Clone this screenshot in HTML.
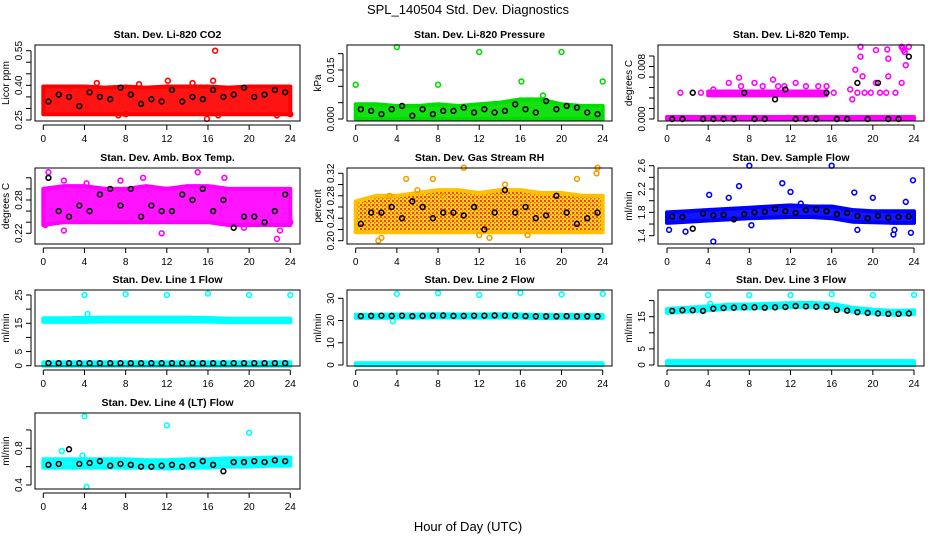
<!DOCTYPE html>
<html><head><meta charset="utf-8"><style>
body{margin:0;background:#fff;}
svg{display:block;font-family:"Liberation Sans",sans-serif;}
</style></head><body>
<svg id="chart" width="936" height="540" viewBox="0 0 936 540">
<defs>
<pattern id="rhPat" width="4" height="4" patternUnits="userSpaceOnUse">
<rect width="4" height="4" fill="#ffd200"/>
<rect x="0" y="0" width="2" height="2" fill="#f03000"/>
<rect x="2" y="2" width="1.5" height="1.5" fill="#f05000"/>
</pattern>
</defs>
<text x="468" y="14" font-size="13" text-anchor="middle">SPL_140504  Std. Dev. Diagnostics</text>
<text x="468" y="531" font-size="13" text-anchor="middle">Hour of Day (UTC)</text>
</svg>
<script>
const bandHours=[0,2,4,6,8,10,12,14,16,18,20,22,24];
const blackHours=[0.5,1.5,2.5,3.5,4.5,5.5,6.5,7.5,8.5,9.5,10.5,11.5,12.5,13.5,14.5,15.5,16.5,17.5,18.5,19.5,20.5,21.5,22.5,23.5];
const xTicks=[0,4,8,12,16,20,24];

const co2Lo=[0.275,0.275,0.275,0.275,0.275,0.275,0.275,0.275,0.275,0.275,0.275,0.275,0.275];
const co2Hi=[0.395,0.395,0.395,0.39,0.395,0.39,0.395,0.395,0.395,0.39,0.395,0.395,0.395];
const co2OutX=[7.3,8,16.5,16.7,15.9,17,22.7,24,12.1,14.5,5.2,9.3];
const co2OutY=[0.27,0.275,0.42,0.55,0.255,0.27,0.27,0.275,0.42,0.41,0.41,0.405];
const co2Black=[0.33,0.36,0.35,0.31,0.37,0.35,0.34,0.39,0.36,0.32,0.34,0.33,0.38,0.33,0.35,0.34,0.38,0.35,0.36,0.39,0.35,0.36,0.38,0.37];

const presLo=[0,0,0,0,0,0,0,0,0,0,0,0,0];
const presHi=[0.0045,0.0045,0.004,0.004,0.0045,0.004,0.0045,0.005,0.006,0.006,0.0045,0.004,0.004];
const presOutX=[0,4,8,12,16.1,20,24,18.2];
const presOutY=[0.0105,0.022,0.0105,0.0205,0.0115,0.0205,0.0115,0.0072];
const presBlack=[0.003,0.0025,0.0015,0.003,0.004,0.001,0.003,0.0015,0.0025,0.0025,0.0035,0.002,0.003,0.002,0.0025,0.0045,0.003,0.002,0.0055,0.003,0.004,0.0035,0.002,0.0015];

const tempLo=[0,0,0,0,0,0,0,0,0,0,0,0,0];
const tempHi=[0.0003,0.0003,0.0003,0.0003,0.0003,0.0003,0.0003,0.0003,0.0003,0.0003,0.0003,0.0003,0.0003];
const tempBand2X=[4,6,8,10,12,14,15.5];
const tempBand2Lo=[0.0036,0.0036,0.0036,0.0036,0.0036,0.0036,0.0036];
const tempBand2Hi=[0.0042,0.0042,0.0042,0.0042,0.0042,0.0042,0.0042];
const tempOutX=[1.3,3.3,7,7.2,10.3,10.8,11.4,13.5,14.7,15.5,18.3,18.8,18.8,19,20.3,21.4,21.5,22.8,23,23.2,18,20.3,21.5,22.8,18.5,19.8,20.7,22.2,16.2,4.5,6,8.5,9.3,12.5,17.8,19.2,21.3,23.5,22.9,23.1];
const tempOutY=[0.004,0.004,0.0063,0.005,0.006,0.005,0.005,0.005,0.005,0.005,0.0075,0.011,0.0095,0.0065,0.0105,0.0106,0.0092,0.011,0.0105,0.0082,0.003,0.0055,0.0065,0.0055,0.004,0.004,0.004,0.004,0.004,0.0045,0.0055,0.0055,0.005,0.0055,0.0045,0.004,0.004,0.011,0.0108,0.0102];
const tempBlack=[0,0,0.004,0,0,0,0,0.004,0,0,0.003,0.0045,0,0,0,0.004,0,0,0.0055,0,0.0055,0,0,0.0095];

const ambLo=[0.235,0.24,0.24,0.24,0.24,0.24,0.24,0.24,0.24,0.235,0.235,0.235,0.235];
const ambHi=[0.3,0.305,0.305,0.3,0.3,0.305,0.3,0.305,0.305,0.3,0.3,0.3,0.3];
const ambOutX=[0.5,2,4.2,9.7,15,17.6,22.7,23,0.2,2,19.5,24,7.5,11.5];
const ambOutY=[0.33,0.315,0.31,0.32,0.33,0.32,0.21,0.225,0.235,0.225,0.23,0.24,0.315,0.22];
const ambBlack=[0.32,0.26,0.25,0.27,0.26,0.29,0.3,0.27,0.3,0.25,0.27,0.26,0.26,0.29,0.28,0.3,0.26,0.28,0.23,0.25,0.25,0.24,0.26,0.29];

const rhLo=[0.215,0.215,0.215,0.215,0.215,0.215,0.215,0.215,0.215,0.215,0.215,0.215,0.215];
const rhHi=[0.27,0.28,0.28,0.285,0.29,0.29,0.285,0.29,0.29,0.285,0.285,0.28,0.28];
const rhOutX=[2.2,2.5,3.3,4.9,7.5,8.5,13,14.5,16.7,19.5,21.5,23.5,23.4,10.5,12,6];
const rhOutY=[0.2,0.205,0.28,0.31,0.31,0.28,0.205,0.3,0.21,0.28,0.31,0.33,0.32,0.33,0.21,0.29];
const rhBlack=[0.23,0.25,0.25,0.26,0.24,0.27,0.26,0.24,0.25,0.25,0.245,0.26,0.22,0.25,0.29,0.25,0.26,0.24,0.245,0.28,0.25,0.23,0.24,0.25];

const flowLo=[1.62,1.64,1.66,1.68,1.7,1.71,1.72,1.72,1.7,1.64,1.63,1.62,1.62];
const flowHi=[1.8,1.82,1.84,1.86,1.88,1.9,1.92,1.9,1.9,1.84,1.82,1.82,1.82];
const flowOutX=[0.2,1.8,4.5,4.1,6,7,8,8.2,11.2,12,16,18.2,18.5,20,22,22.1,23.2,23.7,23.9,13];
const flowOutY=[1.5,1.47,1.3,2.1,2.05,2.25,2.6,1.58,2.3,2.15,2.6,2.14,1.5,2.05,1.42,1.5,1.98,1.45,2.35,1.95];
const flowBlack=[1.73,1.72,1.52,1.78,1.75,1.76,1.68,1.77,1.8,1.81,1.86,1.82,1.79,1.84,1.85,1.82,1.77,1.79,1.74,1.7,1.74,1.71,1.72,1.73];

const l1Lo=[15.5,15.5,15.5,15.6,15.6,15.6,15.6,15.6,15.6,15.4,15.4,15.4,15.4];
const l1Hi=[16.8,16.8,16.9,17,17,17,17,17,16.9,16.6,16.6,16.6,16.6];
const l1BotLo=[0,0,0,0,0,0,0,0,0,0,0,0,0];
const l1BotHi=[1.2,1.2,1.2,1.2,1.2,1.2,1.2,1.2,1.2,1.2,1.2,1.2,1.2];
const l1OutX=[4,8,12,16,20,24,4.3];
const l1OutY=[25,25.3,25,25.5,25,25,18.3];
const l1Black=[0.9,0.9,0.9,0.9,0.9,0.9,0.9,0.9,0.9,0.9,0.9,0.9,0.9,0.9,0.9,0.9,0.9,0.9,0.9,0.9,0.9,0.9,0.9,0.9];

const l2Lo=[21.2,21.2,21.3,21.3,21.4,21.3,21.3,21.4,21.3,21.1,21.1,21.1,21.1];
const l2Hi=[22.6,22.6,22.7,22.7,22.8,22.7,22.7,22.8,22.7,22.5,22.5,22.5,22.5];
const l2BotLo=[0,0,0,0,0,0,0,0,0,0,0,0,0];
const l2BotHi=[0.8,0.8,0.8,0.8,0.8,0.8,0.8,0.8,0.8,0.8,0.8,0.8,0.8];
const l2OutX=[4,8,12,16,20,24,3.6];
const l2OutY=[32,32.3,31.5,32.5,31.8,32,19.7];
const l2Black=[22,22.1,22.2,22.1,22.2,22,22.1,22.2,22.3,22.1,22.1,22.2,22.2,22.3,22.2,22.2,22,21.9,21.9,21.9,22,21.9,21.9,21.9];

const l3Lo=[16.2,16.6,17,17.5,17.6,17.8,18,18.1,17.8,16.6,16,15.6,15.8];
const l3Hi=[17.4,17.8,18.2,18.7,18.8,19,19.2,19.3,19,17.8,17.2,16.8,17];
const l3BotLo=[0,0,0,0,0,0,0,0,0,0,0,0,0];
const l3BotHi=[1.2,1.2,1.2,1.2,1.2,1.2,1.2,1.2,1.2,1.2,1.2,1.2,1.2];
const l3OutX=[4,8,12,16,20,24,4.2];
const l3OutY=[21.7,21.7,21.7,22,21.7,21.8,19];
const l3Black=[16.8,17,17,16.8,17.5,17.7,17.8,17.9,17.9,17.8,17.9,18,18.3,18.2,18.1,18.1,17.1,16.9,16.4,16.2,16,15.9,15.9,16];

const l4Lo=[0.59,0.59,0.59,0.59,0.59,0.59,0.58,0.59,0.59,0.6,0.6,0.61,0.61];
const l4Hi=[0.68,0.68,0.68,0.68,0.68,0.67,0.67,0.68,0.68,0.69,0.69,0.7,0.7];
const l4OutX=[4,12,20,4.2,1.8,3.8];
const l4OutY=[1.15,1.05,0.97,0.38,0.77,0.72];
const l4Black=[0.62,0.63,0.79,0.63,0.64,0.66,0.61,0.63,0.62,0.6,0.6,0.61,0.62,0.6,0.62,0.66,0.62,0.55,0.65,0.65,0.66,0.65,0.67,0.66];

const svg=document.getElementById('chart');
const NS='http://www.w3.org/2000/svg';
function mk(tag,attrs,parent){const e=document.createElementNS(NS,tag);for(const k in attrs)e.setAttribute(k,attrs[k]);(parent||svg).appendChild(e);return e;}

const colLeft=[35,347,658],colRight=[300,612,924],colX0=[43.3,355.7,667],xSpan=247;
const rowTop=[45,168,290,413],boxH=76;

const panels=[
 {name:'co2',title:'Stan. Dev. Li-820 CO2',ylab:'Licor ppm',r:0,c:0,cal:[0.25,120,0.55,50.7],ticks:[0.25,0.3,0.35,0.4,0.45,0.5,0.55],labels:['0.25','','','0.40','','','0.55'],color:'#ff0000',bands:[[bandHours,co2Lo,co2Hi]],ox:co2OutX,oy:co2OutY,black:co2Black},
 {name:'pressure',title:'Stan. Dev. Li-820 Pressure',ylab:'kPa',r:0,c:1,cal:[0,119,0.015,70],ticks:[0,0.005,0.01,0.015,0.02],labels:['0.000','','','0.015',''],color:'#00dd00',bands:[[bandHours,presLo,presHi]],ox:presOutX,oy:presOutY,black:presBlack},
 {name:'temp',title:'Stan. Dev. Li-820 Temp.',ylab:'degrees C',r:0,c:2,cal:[0,119,0.008,66.5],ticks:[0,0.0016,0.0032,0.0048,0.0064,0.008,0.0096],labels:['0.000','','','','','0.008',''],color:'#ff00ff',bands:[[bandHours,tempLo,tempHi],[tempBand2X,tempBand2Lo,tempBand2Hi]],ox:tempOutX,oy:tempOutY,black:tempBlack},
 {name:'amb-box-temp',title:'Stan. Dev. Amb. Box Temp.',ylab:'degrees C',r:1,c:0,cal:[0.22,233.3,0.28,200],ticks:[0.22,0.24,0.26,0.28,0.3,0.32],labels:['0.22','','','0.28','',''],color:'#ff00ff',bands:[[bandHours,ambLo,ambHi]],ox:ambOutX,oy:ambOutY,black:ambBlack},
 {name:'gas-rh',title:'Stan. Dev. Gas Stream RH',ylab:'percent',r:1,c:1,cal:[0.2,240.7,0.32,173.3],ticks:[0.2,0.22,0.24,0.26,0.28,0.3,0.32],labels:['0.20','','0.24','','0.28','','0.32'],color:'#f2a000',fill:'url(#rhPat)',bands:[[bandHours,rhLo,rhHi]],ox:rhOutX,oy:rhOutY,black:rhBlack},
 {name:'sample-flow',title:'Stan. Dev. Sample Flow',ylab:'ml/min',r:1,c:2,cal:[1.4,235.7,2.6,165.7],ticks:[1.4,1.6,1.8,2,2.2,2.4,2.6],labels:['1.4','','1.8','','2.2','','2.6'],color:'#0000ff',bands:[[bandHours,flowLo,flowHi]],ox:flowOutX,oy:flowOutY,black:flowBlack},
 {name:'line1-flow',title:'Stan. Dev. Line 1 Flow',ylab:'ml/min',r:2,c:0,cal:[0,365.7,25,295],ticks:[0,5,10,15,20,25],labels:['0','5','','15','','25'],color:'#00ffff',bands:[[bandHours,l1Lo,l1Hi],[bandHours,l1BotLo,l1BotHi]],ox:l1OutX,oy:l1OutY,black:l1Black},
 {name:'line2-flow',title:'Stan. Dev. Line 2 Flow',ylab:'ml/min',r:2,c:1,cal:[0,365,30,298.3],ticks:[0,10,20,30],labels:['0','10','20','30'],color:'#00ffff',bands:[[bandHours,l2Lo,l2Hi],[bandHours,l2BotLo,l2BotHi]],ox:l2OutX,oy:l2OutY,black:l2Black},
 {name:'line3-flow',title:'Stan. Dev. Line 3 Flow',ylab:'ml/min',r:2,c:2,cal:[0,365,15,316.7],ticks:[0,5,10,15,20],labels:['0','5','','15',''],color:'#00ffff',bands:[[bandHours,l3Lo,l3Hi],[bandHours,l3BotLo,l3BotHi]],ox:l3OutX,oy:l3OutY,black:l3Black},
 {name:'line4-flow',title:'Stan. Dev. Line 4 (LT) Flow',ylab:'ml/min',r:3,c:0,cal:[0.4,485,0.8,448.3],ticks:[0.4,0.6,0.8,1.0],labels:['0.4','','0.8',''],color:'#00ffff',bands:[[bandHours,l4Lo,l4Hi]],ox:l4OutX,oy:l4OutY,black:l4Black}
];

panels.forEach(p=>{
  const L=colLeft[p.c],R=colRight[p.c],T=rowTop[p.r],B=T+boxH;
  const xs=h=>colX0[p.c]+h*xSpan/24;
  const [v1,p1,v2,p2]=p.cal;
  const ys=v=>p1+(v-v1)*(p2-p1)/(v2-v1);
  const g=mk('g',{});
  
  
  const t=mk('text',{x:(L+R)/2,y:T-7,'font-size':10.5,'font-weight':'bold','text-anchor':'middle'},g);
  t.textContent=p.title;
  
  
  p.bands.forEach(b=>{
    const [bx,lo,hi]=b;
    let pts=bx.map((h,i)=>xs(h)+','+ys(hi[i]));
    for(let i=bx.length-1;i>=0;i--)pts.push(xs(bx[i])+','+ys(lo[i]));
    const poly=mk('polygon',{points:pts.join(' '),fill:p.fill||p.color,stroke:p.fill?'#ffc000':p.color,'stroke-width':4,'stroke-linejoin':'round','fill-opacity':0.92},g);
    
    
  });
  p.ox.forEach((h,i)=>{
    const c=mk('circle',{cx:xs(h),cy:ys(p.oy[i]),r:2.4,fill:'none',stroke:p.color,'stroke-width':1.6},g);
    
    
  });
  p.black.forEach((v,i)=>{
    const c=mk('circle',{cx:xs(blackHours[i]),cy:ys(v),r:2.4,fill:'none',stroke:'#000','stroke-width':1.6},g);
    
    
  });
  const box=mk('rect',{x:L,y:T,width:R-L,height:boxH,fill:'none',stroke:'#000','stroke-width':1},g);
  
  
  mk('line',{x1:xs(0),x2:xs(24),y1:B+4,y2:B+4,stroke:'#000'},g);
  xTicks.forEach(h=>{
    mk('line',{x1:xs(h),x2:xs(h),y1:B+4,y2:B+9,stroke:'#000'},g);
    const tx=mk('text',{x:xs(h),y:B+21,'font-size':10,'text-anchor':'middle'},g);
    tx.textContent=h;
    
    
  });
  const ya=L-4;
  mk('line',{x1:ya,x2:ya,y1:ys(p.ticks[0]),y2:ys(p.ticks[p.ticks.length-1]),stroke:'#000'},g);
  p.ticks.forEach((v,i)=>{
    const y=ys(v);
    mk('line',{x1:ya-5,x2:ya,y1:y,y2:y,stroke:'#000'},g);
    if(p.labels[i]){
      const tx=mk('text',{x:0,y:0,'font-size':10,'text-anchor':'middle',transform:`translate(${ya-9},${y}) rotate(-90)`},g);
      tx.textContent=p.labels[i];
      
      
    }
  });
  const yl=mk('text',{x:0,y:0,'font-size':10,'text-anchor':'middle',transform:`translate(${L-26},${T+boxH/2}) rotate(-90)`},g);
  yl.textContent=p.ylab;
  
  
});
</script>
</body></html>
